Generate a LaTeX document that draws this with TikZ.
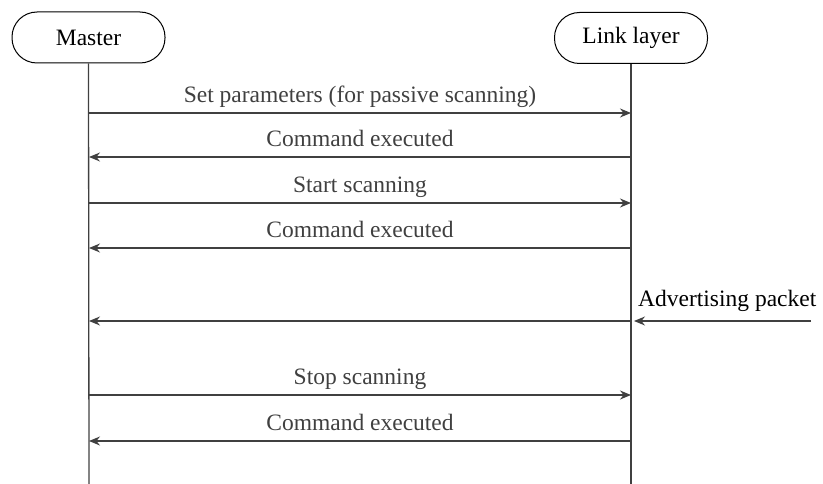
\documentclass[tikz,border=0pt]{standalone}
\usepackage{fontspec}
\setmainfont{Liberation Serif}
\usetikzlibrary{arrows.meta,positioning}

\begin{document}
\begin{tikzpicture}[
  x=1pt, y=-1pt,
  font=\fontsize{23.5}{28}\selectfont,
  party/.style={draw, line width=1pt, rounded corners=25pt,
                minimum width=153pt, minimum height=51pt},
  life/.style={line width=1.3pt, black!75},
  msg/.style={-{Stealth[length=11pt,width=9pt]}, line width=1.3pt, black!75},
  lbl/.style={above=10pt, inner sep=0pt, text depth=0pt}
]
\useasboundingbox (0,0) rectangle (823,484);

% Participants
\node[party] (master) at (88.5,37.5) {Master};
\node[party] (link) at (631,38) {Link layer};

% Lifelines
\coordinate (masterend) at (89,484);
\coordinate (linkend) at (631,484);
\draw[life] (master.south) -- (masterend);
\draw[life] (link.south) -- (linkend);

% Points on the lifelines
\coordinate (m1) at (89,113);  \coordinate (l1) at (631,113);
\coordinate (m2) at (89,157);  \coordinate (l2) at (631,157);
\coordinate (m3) at (89,203);  \coordinate (l3) at (631,203);
\coordinate (m4) at (89,248);  \coordinate (l4) at (631,248);
\coordinate (m5) at (89,321);  \coordinate (l5) at (631,321);
\coordinate (m6) at (89,395);  \coordinate (l6) at (631,395);
\coordinate (m7) at (89,441);  \coordinate (l7) at (631,441);
\coordinate (ext) at (811,321); \coordinate (exttip) at (634,321);

% Messages
\draw[msg] (m1) -- node[lbl] (setpar) {Set parameters (for passive scanning)} (l1);
\draw[msg] (l2) -- node[lbl] (done1) {Command executed} (m2);
\draw[msg] (m3) -- node[lbl] (start) {Start scanning} (l3);
\draw[msg] (l4) -- node[lbl] (done2) {Command executed} (m4);
\draw[msg] (ext) -- (exttip);
\node[inner sep=0pt, text depth=0pt, anchor=base west] (adv) at (638,306) {Advertising packet};
\draw[msg] (l5) -- (m5);
\draw[msg] (m6) -- node[lbl] (stop) {Stop scanning} (l6);
\draw[msg] (l7) -- node[lbl] (done3) {Command executed} (m7);

\end{tikzpicture}
\end{document}
